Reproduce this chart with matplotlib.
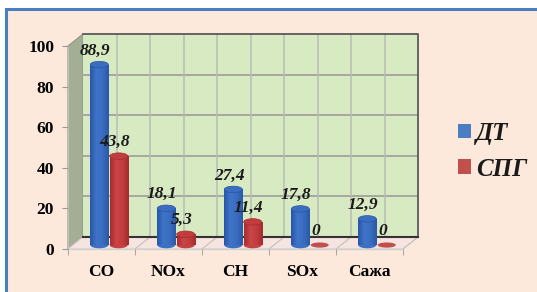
import numpy as np
import matplotlib
matplotlib.use("Agg")
import matplotlib.pyplot as plt
from matplotlib.patches import Rectangle, Ellipse, Polygon
from matplotlib.colors import LinearSegmentedColormap

categories = ["CO", "NOx", "CH", "SOx", "Сажа"]
dt_values = [88.9, 18.1, 27.4, 17.8, 12.9]
spg_values = [43.8, 5.3, 11.4, 0, 0]
dt_labels = ["88,9", "18,1", "27,4", "17,8", "12,9"]
spg_labels = ["43,8", "5,3", "11,4", "0", "0"]
series_names = ["ДТ", "СПГ"]
yticks = [0, 20, 40, 60, 80, 100]

W, H = 537, 292
fig = plt.figure(figsize=(W / 100, H / 100), dpi=100)
fig.patch.set_facecolor("white")
fig.patches.append(Rectangle((6 / W, -0.02), 1.1, (H - 9) / H + 0.02,
                             transform=fig.transFigure, facecolor="#FDE9DC",
                             edgecolor="#4A7EC2", lw=2.2, zorder=-5))

ax = fig.add_axes([68 / W, (H - 249) / H, 335 / W, 203 / H])
ax.set_zorder(1)
ax.patch.set_alpha(0)
for s in ax.spines.values():
    s.set_visible(False)

dx, dy = 0.224, 5.9
n = len(categories)

# side wall
side = Polygon([(0, 0), (dx, dy), (dx, 100 + dy), (0, 100)], closed=True,
               facecolor="#A4AE95", edgecolor="#8E9880", lw=0.8, clip_on=False, zorder=1)
ax.add_patch(side)
# back wall
back = Rectangle((dx, dy), n, 100, facecolor="#D8EAC2", edgecolor="none",
                 clip_on=False, zorder=1)
ax.add_patch(back)
for v in yticks[1:-1]:
    ax.plot([dx, n + dx], [v + dy, v + dy], color="#A0A39D", lw=1.3, clip_on=False, zorder=1.5)
for k in range(1, 2 * n):
    ax.plot([dx + k * 0.5] * 2, [dy, 100 + dy], color="#B9BCB6", lw=1.1, clip_on=False, zorder=1.5)
ax.plot([dx, n + dx, n + dx], [100 + dy, 100 + dy, dy], color="#5A5A5A", lw=1.3,
        clip_on=False, zorder=1.6)
ax.plot([dx, n + dx], [dy, dy], color="#333333", lw=1.5, clip_on=False, zorder=1.6)
# floor
floor = Polygon([(0, 0), (n, 0), (n + dx, dy), (dx, dy)], closed=True,
                facecolor="#F6E4E0", edgecolor="#D9D0CC", lw=0.8, clip_on=False, zorder=1.2)
ax.add_patch(floor)
for k in range(1, n + 1):
    ax.plot([k, k + dx], [0, dy], color="#C9C4C0", lw=0.9, clip_on=False, zorder=1.3)
ax.plot([0, n], [0, 0], color="#D0D0D0", lw=1.0, clip_on=False, zorder=1.3)

# bars
w = 0.27
off = 0.145
x = np.arange(n) + 0.5 + dx / 2
base = dy / 2 - 1.0
cap_h = 3.2

blue_cm = LinearSegmentedColormap.from_list("b", ["#2756A6", "#3F74C8", "#3A6DC0", "#2A58A6"])
red_cm = LinearSegmentedColormap.from_list("r", ["#A52D2F", "#CC4547", "#C23C3E", "#A22C2E"])
grad = np.linspace(0, 1, 64).reshape(1, -1)


def draw_series(xs, vals, color, cm, top_color, label):
    bars = ax.bar(xs, vals, width=w, bottom=base, color=color, label=label, zorder=3, lw=0)
    for b, v in zip(bars, vals):
        x0 = b.get_x()
        if v > 0:
            im = ax.imshow(grad, cmap=cm, aspect="auto", extent=(x0, x0 + w, base, base + v),
                           zorder=3.1, interpolation="bilinear")
            im.set_clip_path(b)
            ax.add_patch(Ellipse((x0 + w / 2, base), w, cap_h, facecolor=cm(0.5), lw=0, zorder=2.9))
            ax.add_patch(Ellipse((x0 + w / 2, base + v), w, cap_h, facecolor=top_color,
                                 edgecolor=cm(0.0), lw=0.5, zorder=3.2))
        else:
            ax.add_patch(Ellipse((x0 + w / 2, base), w, cap_h * 0.8, facecolor=color, lw=0, zorder=3.2))
    return bars


draw_series(x - off, dt_values, "#4A7EC2", blue_cm, "#3A6DC0", series_names[0])
draw_series(x + off, spg_values, "#C0504D", red_cm, "#C23C3E", series_names[1])
ax.set_xlim(0, 5)
ax.set_ylim(0, 100)

lab_font = dict(family="Liberation Serif", weight="bold", style="italic", size=12.5, color="#1A1A1A")
for xs, vals, labs in ((x - off, dt_values, dt_labels), (x + off, spg_values, spg_labels)):
    for xi, v, t in zip(xs, vals, labs):
        ax.annotate(t, (xi, base + v + cap_h / 2), xytext=(-3, 2), textcoords="offset points",
                    ha="center", va="bottom", zorder=5, **lab_font)

tick_font = dict(family="Liberation Serif", weight="bold", size=12.5)
ax.set_yticks(yticks)
ax.set_yticklabels([str(v) for v in yticks], **tick_font)
ax.tick_params(axis="y", length=4, color="#9A9A9A", pad=6)
ax.set_xticks(np.arange(n) + 0.5)
ax.set_xticklabels(categories, **tick_font)
ax.set_xticks(np.arange(n + 1), minor=True)
ax.tick_params(axis="x", which="major", length=0, pad=11)
ax.tick_params(axis="x", which="minor", length=4, color="#9A9A9A")
ax.plot([0, 0], [0, 100], color="#BFBFBF", lw=0.8, clip_on=False, zorder=1.4)

leg = fig.legend(loc="upper left", bbox_to_anchor=(458 / W, 1 - 122 / H), frameon=False,
                 prop=dict(family="Liberation Serif", weight="bold", style="italic", size=18),
                 handlelength=0.52, handleheight=0.52, handletextpad=0.2, labelspacing=0.5,
                 borderpad=0, borderaxespad=0)
for t in leg.get_texts():
    t.set_color("#1A1A1A")

fig.savefig("out.png", dpi=100, facecolor=fig.get_facecolor())
